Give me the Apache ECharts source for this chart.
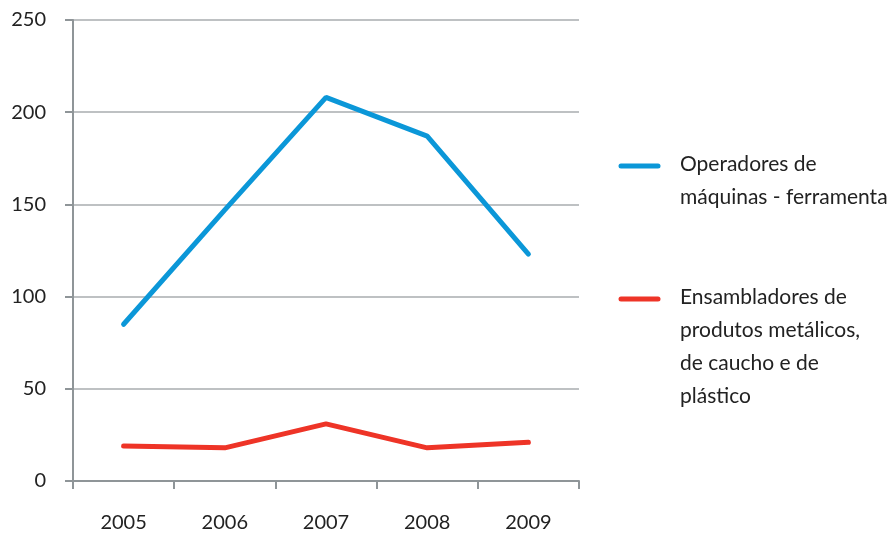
<!DOCTYPE html>
<html>
<head>
<meta charset="utf-8">
<script src="https://cdn.jsdelivr.net/npm/echarts@6/dist/echarts.min.js"></script>
<style>
  html, body { margin: 0; padding: 0; background: #fff; }
  #chart { width: 890px; height: 536px; }
</style>
</head>
<body>
<div id="chart"></div>
<script>
  // categorías (anos) e valores
  var years = ['2005', '2006', '2007', '2008', '2009']
  var operadores = [85, 147, 208, 187, 123]
  var ensambladores = [19, 18, 31, 18, 21]
  var seriesNames = ['Operadores de máquinas - ferramenta', 'Ensambladores de produtos metálicos, de caucho e de plástico']
  var legendLines = [
    ['Operadores de', 'máquinas - ferramenta'],
    ['Ensambladores de', 'produtos metálicos,', 'de caucho e de', 'plástico']
  ]
  var colors = ['#0b97d8', '#ee3427']

  var font = 'Lato, "Open Sans", sans-serif'
  var myChart = echarts.init(document.getElementById('chart'))

  // lenda desenhada à mão (ícone alinhado com a primeira linha do texto)
  var legendTop = [166, 299]
  var graphic = []
  for (var i = 0; i < legendLines.length; i++) {
    graphic.push({
      type: 'line',
      shape: { x1: 621, y1: legendTop[i], x2: 658, y2: legendTop[i] },
      style: { stroke: colors[i], lineWidth: 5, lineCap: 'round' }
    })
    graphic.push({
      type: 'text',
      left: 680,
      top: legendTop[i] - 18,
      style: {
        text: legendLines[i].join('\n'),
        fill: '#222',
        font: '21px ' + font,
        lineHeight: 33
      }
    })
  }

  myChart.setOption({
    animation: false,
    backgroundColor: '#fff',
    grid: { left: 73, right: 311, top: 20, bottom: 55 },
    graphic: graphic,
    xAxis: {
      type: 'category',
      data: years,
      boundaryGap: true,
      axisLine: { lineStyle: { color: '#8f9598', width: 2 } },
      axisTick: { show: true, length: 8, lineStyle: { color: '#8f9598', width: 2 } },
      axisLabel: { color: '#222', fontSize: 20, fontFamily: font, margin: 32 },
      splitLine: { show: false }
    },
    yAxis: {
      type: 'value',
      min: 0,
      max: 250,
      interval: 50,
      axisLine: { show: true, lineStyle: { color: '#8f9598', width: 2 } },
      axisTick: { show: true, length: 8, lineStyle: { color: '#8f9598', width: 2 } },
      axisLabel: { color: '#222', fontSize: 20, fontFamily: font, margin: 27, padding: [6, 0, 0, 0] },
      splitLine: { lineStyle: { color: '#a9adaf', width: 1.5 } }
    },
    series: [
      {
        name: seriesNames[0],
        type: 'line',
        data: operadores,
        symbol: 'none',
        lineStyle: { color: colors[0], width: 5, cap: 'round' }
      },
      {
        name: seriesNames[1],
        type: 'line',
        data: ensambladores,
        symbol: 'none',
        lineStyle: { color: colors[1], width: 5, cap: 'round' }
      }
    ]
  })
</script>
</body>
</html>
